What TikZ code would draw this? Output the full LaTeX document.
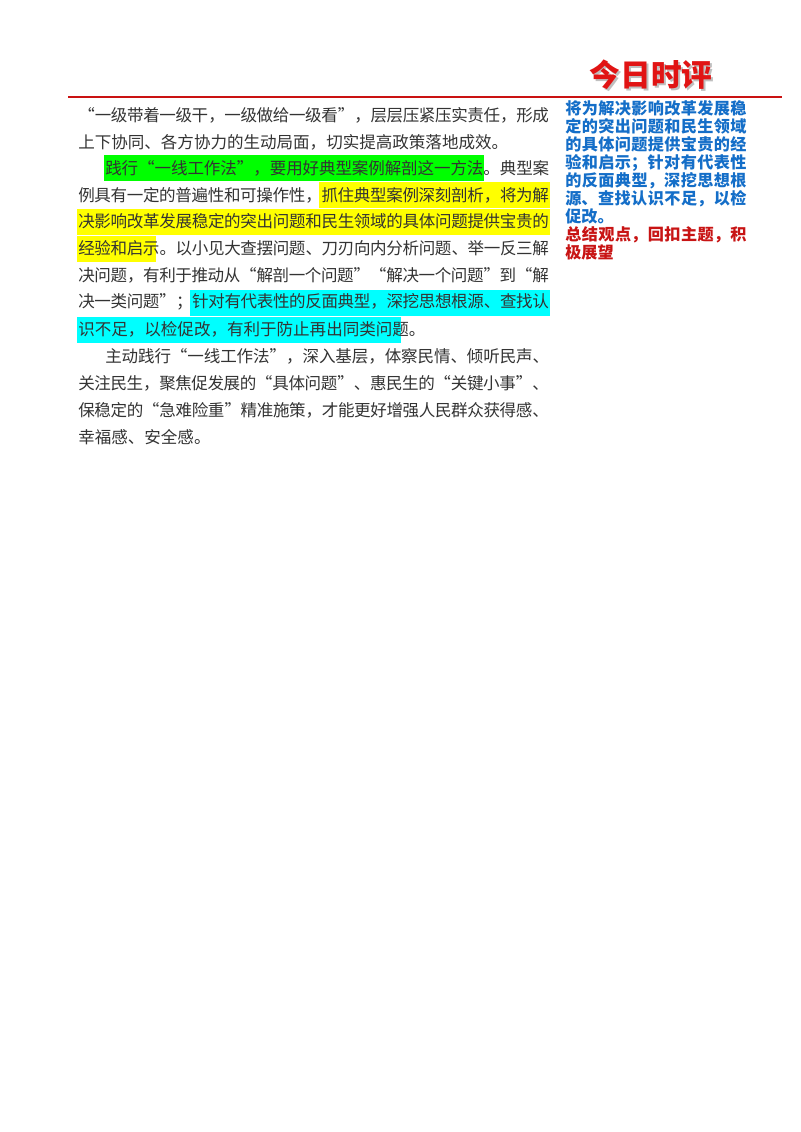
\documentclass[tikz,border=0pt]{standalone}
\usepackage{fontspec}
\setmainfont{Noto Sans CJK SC}
\XeTeXlinebreaklocale "zh"
\XeTeXlinebreakskip=0pt plus 3pt minus 0.5pt
\newcommand{\jl}[2]{\parbox{#1pt}{\parfillskip=0pt\relax #2}}
\newcommand{\nl}[2]{\parbox{#1pt}{#2}}
\definecolor{hlgreen}{RGB}{0,255,0}
\definecolor{hlyellow}{RGB}{255,255,0}
\definecolor{hlcyan}{RGB}{0,255,255}
\definecolor{sideblue}{RGB}{20,110,200}
\definecolor{sidered}{RGB}{200,20,20}
\definecolor{titlered}{RGB}{225,20,20}
\begin{document}
\begin{tikzpicture}[x=0.75pt,y=-0.75pt,
  mainline/.style={anchor=west,inner sep=0pt,font=\fontsize{12.4}{14}\selectfont,text=black!80},
  sideline/.style={anchor=north west,inner sep=0pt,font=\fontsize{12.1}{13.5}\bfseries\selectfont},
  hl/.style={draw=none}]
\fill[white] (0,0) rectangle (800,1132);
\useasboundingbox (0,0) rectangle (800,1132);
% title
\node[inner sep=0pt,font=\fontsize{23}{24}\bfseries\selectfont,text=gray!50] (tsh) at (653,77) {今日时评};
\node[inner sep=0pt,font=\fontsize{23}{24}\bfseries\selectfont,text=titlered] (title) at (651,75) {今日时评};
\draw[line width=2.2pt,color=titlered!90!black] (68,97) -- (782,97);
% highlights
\fill[hlgreen] (104,155) rectangle (484,181);
\fill[hlyellow] (319,182) rectangle (550,208);
\fill[hlyellow] (77,209) rectangle (550,235);
\fill[hlyellow] (77,236) rectangle (156,262);
\fill[hlcyan] (190,290) rectangle (550,316);
\fill[hlcyan] (77,317) rectangle (401,343);
% main text
\node[mainline] (l1) at (78,115) {\jl{353}{“一级带着一级干，一级做给一级看”，层层压紧压实责任，形成}};
\node[mainline] (l2) at (78,142) {\nl{353}{上下协同、各方协力的生动局面，切实提高政策落地成效。}};
\node[mainline] (l3) at (105,168) {\jl{333}{践行“一线工作法”，要用好典型案例解剖这一方法。典型案}};
\node[mainline] (l4) at (78,195) {\jl{353}{例具有一定的普遍性和可操作性，抓住典型案例深刻剖析，将为解}};
\node[mainline] (l5) at (78,221) {\jl{353}{决影响改革发展稳定的突出问题和民生领域的具体问题提供宝贵的}};
\node[mainline] (l6) at (78,248) {\jl{353}{经验和启示。以小见大查摆问题、刀刃向内分析问题、举一反三解}};
\node[mainline] (l7) at (78,275) {\jl{353}{决问题，有利于推动从“解剖一个问题”“解决一个问题”到“解}};
\node[mainline] (l8) at (78,302) {\jl{353}{决一类问题”；针对有代表性的反面典型，深挖思想根源、查找认}};
\node[mainline] (l9) at (78,329) {\nl{353}{识不足，以检促改，有利于防止再出同类问题。}};
\node[mainline] (l10) at (105,356) {\jl{333}{主动践行“一线工作法”，深入基层，体察民情、倾听民声、}};
\node[mainline] (l11) at (78,383) {\jl{353}{关注民生，聚焦促发展的“具体问题”、惠民生的“关键小事”、}};
\node[mainline] (l12) at (78,410) {\jl{353}{保稳定的“急难险重”精准施策，才能更好增强人民群众获得感、}};
\node[mainline] (l13) at (78,437) {\nl{353}{幸福感、安全感。}};
% side notes
\node[sideline,text=sideblue] (s1) at (565,100) {\parbox{136pt}{\baselineskip=13.5pt 将为解决影响改革发展稳定的突出问题和民生领域的具体问题提供宝贵的经验和启示；针对有代表性的反面典型，深挖思想根源、查找认识不足，以检促改。}};
\node[sideline,text=sidered] (s2) at (565,226) {\parbox{136pt}{\baselineskip=13.5pt 总结观点，回扣主题，积极展望}};
\end{tikzpicture}
\end{document}
